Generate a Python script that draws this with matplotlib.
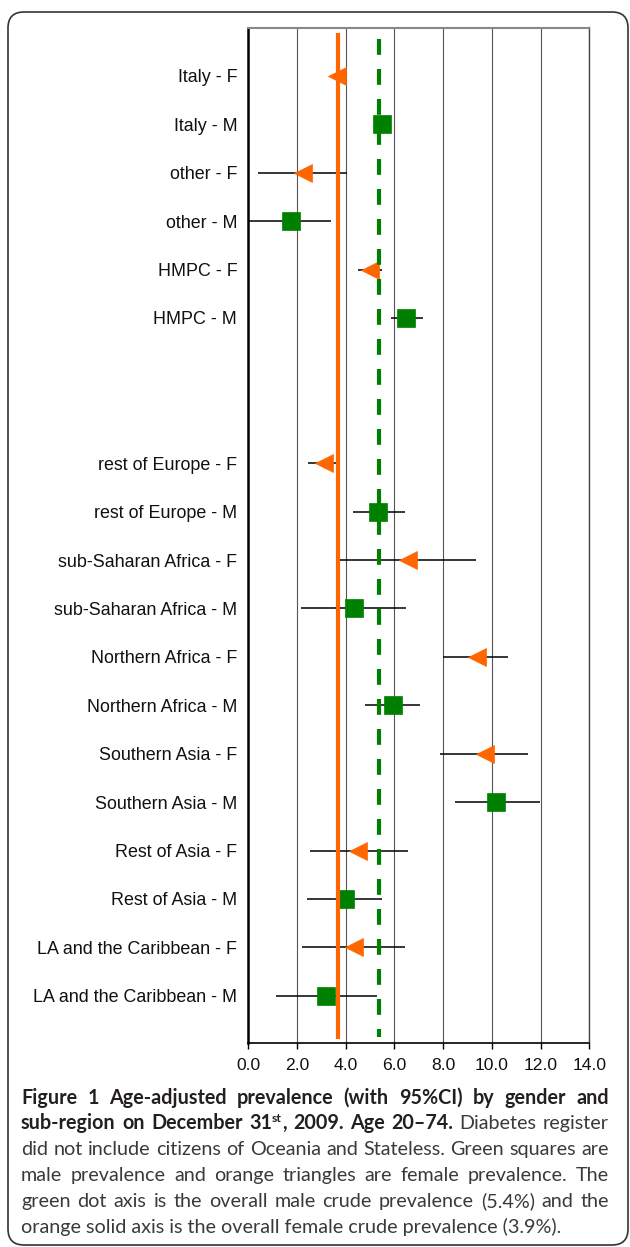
import matplotlib
matplotlib.use("Agg")
import matplotlib.pyplot as plt
from matplotlib.patches import FancyBboxPatch
from matplotlib.transforms import IdentityTransform

# ---------------- data ----------------
regions = ["Italy", "other", "HMPC", "rest of Europe", "sub-Saharan Africa",
           "Northern Africa", "Southern Asia", "Rest of Asia", "LA and the Caribbean"]
female_prev = [3.64, 2.24, 5.01, 3.10, 6.55, 9.37, 9.71, 4.52, 4.32]
female_lo = [3.45, 0.40, 4.52, 2.46, 3.76, 8.00, 7.87, 2.55, 2.20]
female_hi = [3.85, 4.06, 5.48, 3.60, 9.33, 10.67, 11.49, 6.57, 6.43]
male_prev = [5.47, 1.76, 6.47, 5.33, 4.32, 5.94, 10.19, 3.99, 3.18]
male_lo = [5.30, 0.04, 5.86, 4.31, 2.15, 4.78, 8.49, 2.41, 1.12]
male_hi = [5.65, 3.40, 7.16, 6.43, 6.47, 7.04, 11.97, 5.48, 5.28]
female_ref = 3.67   # orange solid axis (as drawn)
male_ref = 5.35     # green dashed axis (as drawn)
x_ticks = [0, 2, 4, 6, 8, 10, 12, 14]

ORANGE = "#FF6600"
GREEN = "#008000"

W, H = 630, 1247
plt.rcParams["font.family"] = ["Liberation Sans", "DejaVu Sans"]
fig = plt.figure(figsize=(W / 100, H / 100), dpi=100)

x0, x1 = 248.3, 589.3
ytop, ybot = 27.5, 1042.7
ax = fig.add_axes([x0 / W, 1 - ybot / H, (x1 - x0) / W, (ybot - ytop) / H])

# row positions (gap of two empty slots after the third region)
rows = []
r = 0
for i in range(len(regions)):
    if i == 3:
        r += 2
    rows.append(r)
    r += 2
yF = [rr for rr in rows]
yM = [rr + 1 for rr in rows]

ax.errorbar(female_prev, yF,
            xerr=[[p - l for p, l in zip(female_prev, female_lo)],
                  [h - p for p, h in zip(female_prev, female_hi)]],
            fmt="none", ecolor="black", elinewidth=1.1, capsize=0, zorder=2)
ax.errorbar(male_prev, yM,
            xerr=[[p - l for p, l in zip(male_prev, male_lo)],
                  [h - p for p, h in zip(male_prev, male_hi)]],
            fmt="none", ecolor="black", elinewidth=1.1, capsize=0, zorder=2)
ax.plot(female_prev, yF, linestyle="none", marker="<", ms=13,
        mfc=ORANGE, mec=ORANGE, mew=0.5, zorder=3)
ax.plot(male_prev, yM, linestyle="none", marker="s", ms=13,
        mfc=GREEN, mec=GREEN, mew=0.5, zorder=3)

ax.plot([female_ref, female_ref], [-0.88, 19.89], color=ORANGE, lw=3,
        solid_capstyle="butt", zorder=4)
ax.plot([male_ref, male_ref], [-0.77, 19.85], color=GREEN, lw=3,
        dashes=(3.8, 3.4), dash_capstyle="butt", zorder=4)

ax.set_xlim(0, 14)
ax.set_ylim(19.97, -1)
ax.set_xticks(x_ticks)
ax.set_xticklabels([f"{v:.1f}" for v in x_ticks])
ticks_y = []
labels_y = []
for reg, f, m in zip(regions, yF, yM):
    ticks_y += [f, m]
    labels_y += [f"{reg} - F", f"{reg} - M"]
ax.set_yticks(ticks_y)
ax.set_yticklabels(labels_y)
ax.grid(axis="x", color="#555555", lw=0.8)
ax.grid(axis="y", visible=False)
ax.set_axisbelow(True)

ax.tick_params(axis="y", length=0, pad=8, labelsize=12.9, labelcolor="#111111")
ax.tick_params(axis="x", direction="out", length=4, width=1, pad=7,
               labelsize=12.6, labelcolor="#111111")
ax.spines["left"].set_linestyle((0, (1.2, 1.0)))
ax.spines["left"].set_linewidth(1.8)
ax.spines["left"].set_color("black")
ax.spines["top"].set_color("#888888")
ax.spines["top"].set_linewidth(1.5)
ax.spines["right"].set_color("#444444")
ax.spines["right"].set_linewidth(1.0)
ax.spines["bottom"].set_color("black")
ax.spines["bottom"].set_linewidth(1.2)

# ---------------- rounded frame ----------------
box = FancyBboxPatch((8, 2), 620, 1233, boxstyle="round,pad=0,rounding_size=16",
                     transform=IdentityTransform(), fill=False,
                     edgecolor="#333333", lw=1.2)
fig.add_artist(box)

# ---------------- caption ----------------
cap_font = ["Lato", "DejaVu Sans"]
renderer = fig.canvas.get_renderer()


def measure(text, weight, size):
    t = fig.text(0, 0, text, fontsize=size, fontweight=weight, family=cap_font)
    w = t.get_window_extent(renderer).width
    t.remove()
    return w


def piece_style(style, size):
    if style == "b":
        return "bold", size, 0
    if style == "bs":
        return "bold", size * 0.62, size * 0.36 * 100 / 72
    return "normal", size, 0


caption_lines = [
    [[("Figure", "b")], [("1", "b")], [("Age-adjusted", "b")], [("prevalence", "b")],
     [("(with", "b")], [("95%CI)", "b")], [("by", "b")], [("gender", "b")], [("and", "b")]],
    [[("sub-region", "b")], [("on", "b")], [("December", "b")],
     [("31", "b"), ("st", "bs"), (",", "b")], [("2009.", "b")], [("Age", "b")],
     [("20–74.", "b")], [("Diabetes", "r")], [("register", "r")]],
    [[(w, "r")] for w in "did not include citizens of Oceania and Stateless. Green squares are".split()],
    [[(w, "r")] for w in "male prevalence and orange triangles are female prevalence. The".split()],
    [[(w, "r")] for w in "green dot axis is the overall male crude prevalence (5.4%) and the".split()],
]
last_line = "orange solid axis is the overall female crude prevalence (3.9%)."
cap_left, cap_right = 21.0, 609.0
baselines = [1103.5, 1129.3, 1155.1, 1180.9, 1206.7, 1232.5]


def token_width(tok, size):
    return sum(measure(t, *piece_style(s, size)[:2]) for t, s in tok)


def space_width(size, weight):
    return measure("a a", weight, size) - measure("aa", weight, size)


base = 12.0
nat = []
for line in caption_lines:
    ws = sum(token_width(tok, base) for tok in line)
    wt = "bold" if line[0][0][1] == "b" else "normal"
    nat.append(ws + (len(line) - 1) * space_width(base, wt))
cap_size = base * (cap_right - cap_left - 6) / max(nat)

for line, yb in zip(caption_lines, baselines):
    widths = [token_width(tok, cap_size) for tok in line]
    gap = (cap_right - cap_left - sum(widths)) / (len(line) - 1)
    x = cap_left
    for tok, tw in zip(line, widths):
        xx = x
        for text, style in tok:
            weight, sz, rise = piece_style(style, cap_size)
            color = "#231f20" if style.startswith("b") else "#3a3a3a"
            fig.text(xx / W, 1 - (yb - rise) / H, text, fontsize=sz, fontweight=weight,
                     family=cap_font, color=color, va="baseline", ha="left")
            xx += measure(text, weight, sz)
        x += tw + gap

fig.text(cap_left / W, 1 - baselines[-1] / H, last_line, fontsize=cap_size,
         family=cap_font, color="#3a3a3a", va="baseline", ha="left")

fig.savefig("out.png", dpi=100)
